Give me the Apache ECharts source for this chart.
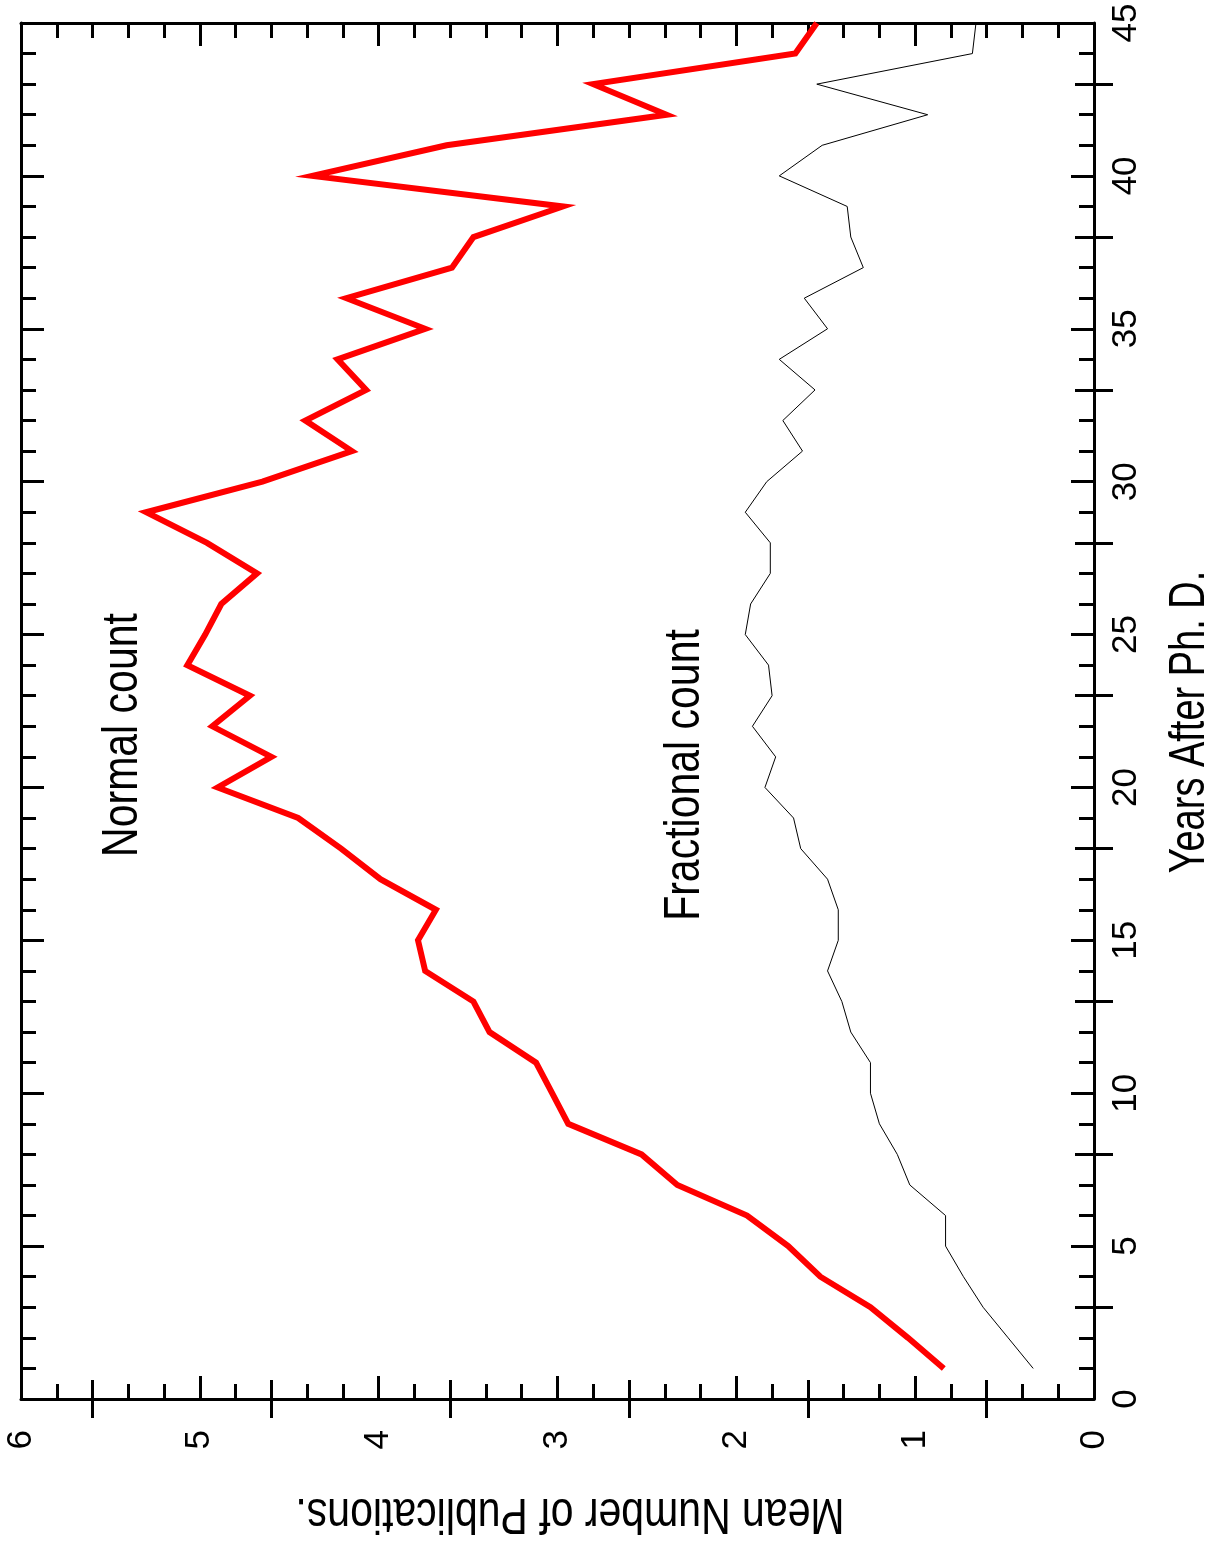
<!DOCTYPE html>
<html>
<head>
<meta charset="utf-8">
<script src="https://cdn.jsdelivr.net/npm/echarts@6/dist/echarts.min.js"></script>
<style>
  html, body { margin: 0; padding: 0; background: #ffffff; }
  #chart { width: 1220px; height: 1549px; }
</style>
</head>
<body>
<div id="chart"></div>
<script>
// Years after the Ph.D. (one point per year)
const years = [
  1, 2, 3, 4, 5, 6, 7, 8, 9, 10,
  11, 12, 13, 14, 15, 16, 17, 18, 19, 20,
  21, 22, 23, 24, 25, 26, 27, 28, 29, 30,
  31, 32, 33, 34, 35, 36, 37, 38, 39, 40,
  41, 42, 43, 44, 45
];

// Mean number of publications, normal count
const normalCount = [
  0.84, 1.04, 1.25, 1.53, 1.71, 1.94, 2.33, 2.53, 2.94, 3.03,
  3.12, 3.38, 3.47, 3.74, 3.78, 3.68, 3.99, 4.21, 4.45, 4.90,
  4.60, 4.93, 4.72, 5.07, 4.97, 4.88, 4.68, 4.96, 5.30, 4.65,
  4.15, 4.41, 4.07, 4.23, 3.74, 4.18, 3.59, 3.47, 2.97, 4.37,
  3.62, 2.39, 2.80, 1.67, 1.55
];

// Mean number of publications, fractional count
const fractionalCount = [
  0.34, 0.48, 0.62, 0.73, 0.83, 0.83, 1.03, 1.10, 1.20, 1.25,
  1.25, 1.36, 1.41, 1.49, 1.43, 1.43, 1.49, 1.64, 1.68, 1.84,
  1.78, 1.91, 1.80, 1.82, 1.95, 1.92, 1.81, 1.81, 1.95, 1.83,
  1.63, 1.74, 1.56, 1.76, 1.49, 1.62, 1.29, 1.36, 1.38, 1.76,
  1.52, 0.93, 1.55, 0.68, 0.66
];

// Intermediate (medium-length) tick positions on each axis
const valueMidTicks = [0.6, 1.6, 2.6, 3.6, 4.6, 5.6];
const yearMidTicks = [3, 8, 13, 18, 23, 28, 33, 38, 43];

// Axis titles and curve annotations
const valueTitle = 'Mean Number of Publications.';
const yearTitle = 'Years After Ph. D.';
const normalLabel = 'Normal count';
const fractionalLabel = 'Fractional count';

const FONT = "'Liberation Sans', Arial, sans-serif";
const INK = '#000000';

const chart = echarts.init(document.getElementById('chart'), null, { renderer: 'canvas' });

function pairs(vals) {
  return vals.map((v, i) => [v, years[i]]);
}

// Value axis (runs right-to-left along the bottom / top edges)
function valueAxis(position, withLabels) {
  return {
    type: 'value', position: position, min: 0, max: 6, interval: 1, inverse: true,
    axisLine: { show: true, onZero: false, lineStyle: { color: INK, width: 3 } },
    axisTick: { show: true, inside: true, length: 23, lineStyle: { color: INK, width: 3 } },
    minorTick: { show: true, splitNumber: 5, length: 15, lineStyle: { color: INK, width: 3 } },
    splitLine: { show: false }, minorSplitLine: { show: false },
    axisLabel: withLabels
      ? { show: true, rotate: 90, margin: 31, fontFamily: FONT, fontSize: 35, color: INK }
      : { show: false }
  };
}
function valueMidAxis(position) {
  return {
    type: 'value', position: position, min: 0, max: 6, interval: 1, inverse: true,
    axisLine: { show: false },
    axisTick: { show: true, inside: true, length: 19, customValues: valueMidTicks, lineStyle: { color: INK, width: 3 } },
    splitLine: { show: false }, axisLabel: { show: false }
  };
}
// Years axis (runs bottom-to-top along the right / left edges)
function yearAxis(position, withLabels) {
  return {
    type: 'value', position: position, min: 0, max: 45, interval: 5,
    axisLine: { show: true, onZero: false, lineStyle: { color: INK, width: 3 } },
    axisTick: { show: true, inside: true, length: 23, lineStyle: { color: INK, width: 3 } },
    minorTick: { show: true, splitNumber: 5, length: 15, lineStyle: { color: INK, width: 3 } },
    splitLine: { show: false }, minorSplitLine: { show: false },
    axisLabel: withLabels
      ? { show: true, rotate: 90, margin: 15, fontFamily: FONT, fontSize: 35, color: INK }
      : { show: false }
  };
}
function yearMidAxis(position) {
  return {
    type: 'value', position: position, min: 0, max: 45, interval: 5,
    axisLine: { show: false },
    axisTick: { show: true, inside: true, length: 19, customValues: yearMidTicks, lineStyle: { color: INK, width: 3 } },
    splitLine: { show: false }, axisLabel: { show: false }
  };
}

// Condensed-looking text: squeezed along its reading direction
function narrowText(text, x, y, rotation, squeeze) {
  return {
    type: 'text', x: x, y: y, rotation: rotation, scaleX: squeeze, scaleY: 1,
    style: { text: text, fontFamily: FONT, fontSize: 50, fill: INK, align: 'center', verticalAlign: 'middle' }
  };
}

const option = {
  backgroundColor: '#ffffff',
  animation: false,
  grid: { left: 21, top: 23, width: 1073, height: 1376, containLabel: false, outerBoundsMode: 'none' },
  xAxis: [
    valueAxis('bottom', true),
    valueAxis('top', false),
    valueMidAxis('bottom'),
    valueMidAxis('top')
  ],
  yAxis: [
    yearAxis('right', true),
    yearAxis('left', false),
    yearMidAxis('right'),
    yearMidAxis('left')
  ],
  series: [
    {
      name: normalLabel, type: 'line', xAxisIndex: 0, yAxisIndex: 0,
      data: pairs(normalCount), symbol: 'none', smooth: false,
      lineStyle: { color: '#ff0000', width: 6, cap: 'butt', join: 'miter', miterLimit: 10 },
      z: 3
    },
    {
      name: fractionalLabel, type: 'line', xAxisIndex: 0, yAxisIndex: 0,
      data: pairs(fractionalCount), symbol: 'none', smooth: false,
      lineStyle: { color: INK, width: 1, cap: 'butt', join: 'miter', miterLimit: 10 },
      z: 2
    }
  ],
  graphic: [
    narrowText(valueTitle, 570, 1513, Math.PI, 0.82),
    narrowText(yearTitle, 1190, 722, Math.PI / 2, 0.76),
    narrowText(normalLabel, 123, 735, Math.PI / 2, 0.82),
    narrowText(fractionalLabel, 685, 775, Math.PI / 2, 0.82)
  ]
};

chart.setOption(option);
</script>
</body>
</html>
